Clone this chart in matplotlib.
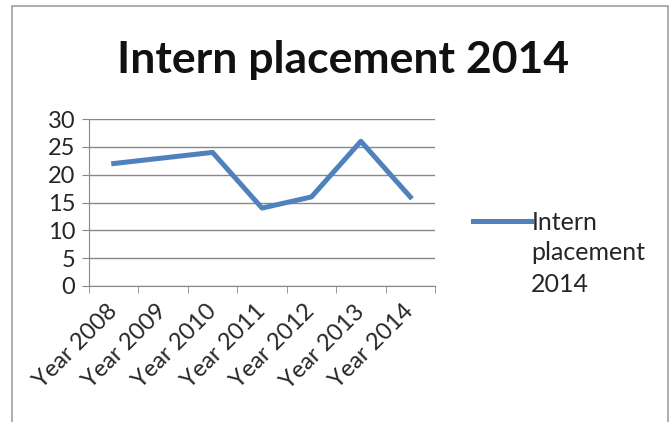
import matplotlib.pyplot as plt
from matplotlib.lines import Line2D
from matplotlib.patches import Rectangle

# Chart data
years = ['Year 2008', 'Year 2009', 'Year 2010', 'Year 2011',
         'Year 2012', 'Year 2013', 'Year 2014']
placements = [22, 23, 24, 14, 16, 26, 16]
series_name = 'Intern placement 2014'
y_ticks = [0, 5, 10, 15, 20, 25, 30]

plt.rcParams['font.family'] = ['Lato', 'DejaVu Sans']
line_color = '#4F81BD'
text_color = '#262626'

fig = plt.figure(figsize=(6.72, 4.22), dpi=100)
fig.patches.append(Rectangle((12 / 672, -0.01), 656 / 672, 1 - 2 / 422,
                             transform=fig.transFigure, fill=False,
                             edgecolor='#a0a0a0', linewidth=1.2))

ax = fig.add_axes([89 / 672, 136 / 422, 346 / 672, 167 / 422])
x = list(range(len(years)))
ax.plot(x, placements, color=line_color, linewidth=3.6, label=series_name)

ax.set_xlim(-0.5, len(years) - 0.5)
ax.set_ylim(0, 30)
ax.set_yticks(y_ticks)
ax.set_xticks(x)
ax.set_xticklabels(years, rotation=45, ha='right', va='center',
                   rotation_mode='anchor', fontsize=17, color=text_color)
ax.set_xticks([i - 0.5 for i in range(len(years) + 1)], minor=True)
ax.tick_params(axis='x', which='major', length=0, pad=16)
ax.tick_params(axis='x', which='minor', length=5, color='#888888')
ax.tick_params(axis='y', length=5, color='#888888', labelsize=17,
               labelcolor=text_color, pad=5)
ax.grid(axis='y', color='#888888', linewidth=1)
ax.set_axisbelow(True)
for side in ['top', 'right']:
    ax.spines[side].set_visible(False)
ax.spines['left'].set_color('#888888')
ax.spines['bottom'].set_color('#888888')

fig.text(343 / 672, 1 - 60 / 422, series_name, ha='center', va='center',
         fontsize=32, fontweight='bold', color='#111111')

# legend: handle aligned with the first line of the wrapped label
handle = Line2D([], [], color=line_color, linewidth=3.6)
fig.legend([handle], ['Intern'], loc='center left',
           bbox_to_anchor=(473 / 672, 1 - 222 / 422), frameon=False,
           fontsize=18, handlelength=2.3, handletextpad=0.05,
           borderpad=0, borderaxespad=0, labelcolor=text_color)
fig.text(531 / 672, 1 - 241 / 422, 'placement\n2014', ha='left', va='top',
         fontsize=18, color=text_color, linespacing=1.45)

fig.savefig('out.png', dpi=100)
